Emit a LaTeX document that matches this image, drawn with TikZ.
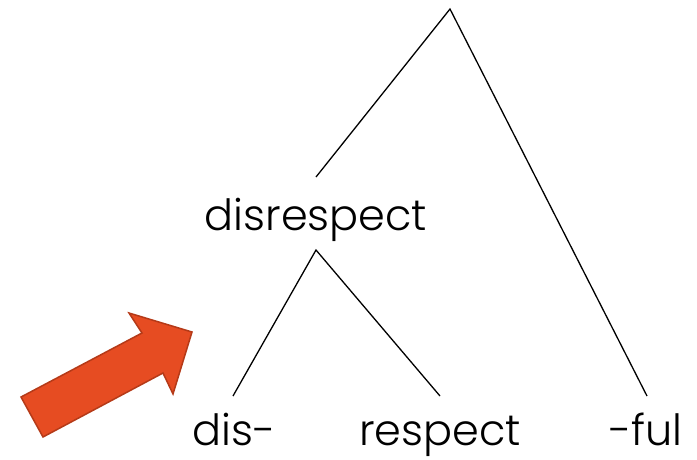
\documentclass[tikz,border=0pt]{standalone}
\usepackage{fontspec}
\setmainfont{Poppins}[UprightFont=* Light]
\definecolor{arrowfill}{HTML}{E64C22}
\definecolor{arrowedge}{HTML}{B53A18}
\begin{document}
\begin{tikzpicture}[x=1pt,y=-1pt,
  word/.style={font=\fontsize{43}{43}\selectfont, inner sep=0pt, anchor=base},
  branch/.style={line width=1.3pt, black}]
\useasboundingbox (0,0) rectangle (697,459);
% nodes
\node[word] (disrespect) at (316,230) {disrespect};
\node[word] (dis) at (234,445) {dis-};
\node[word] (respect) at (440,445) {respect};
\node[word] (ful) at (646,445) {-ful};
% branch end points
\coordinate (top) at (450,9);
\coordinate (topL) at (316,177);
\coordinate (topR) at (647,396);
\coordinate (mid) at (316,250);
\coordinate (midL) at (233,396);
\coordinate (midR) at (440,396);
\draw[branch] (topL) -- (top) -- (topR);
\draw[branch] (midL) -- (mid) -- (midR);
% arrow
\filldraw[fill=arrowfill, draw=arrowedge, line width=1.5pt, line join=miter]
  (21,397) -- (142,333) -- (129,313) -- (192,332) -- (173,394) -- (163,373) -- (43,437) -- cycle;
\end{tikzpicture}
\end{document}
